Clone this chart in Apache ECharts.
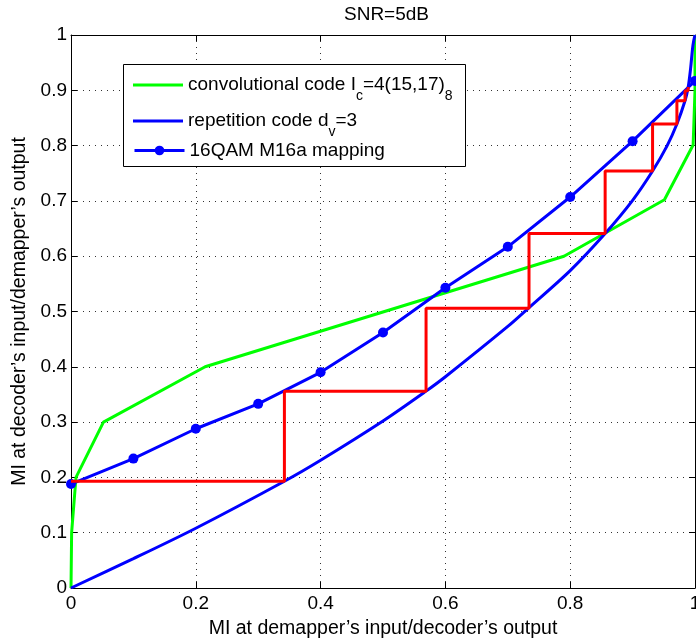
<!DOCTYPE html>
<html>
<head>
<meta charset="utf-8">
<script src="https://cdn.jsdelivr.net/npm/echarts@6/dist/echarts.min.js"></script>
<style>
html,body{margin:0;padding:0;background:#fff;}
#chart{width:696px;height:640px;}
</style>
</head>
<body>
<div id="chart"></div>
<script>
// ---- data ----
var convX = [0, 0.001, 0.008, 0.052, 0.215, 0.79, 0.951, 0.997, 1, 1];
var convY = [0, 0.1, 0.2, 0.3, 0.4, 0.6, 0.702, 0.801, 0.9, 1];

var repX = [0, 0.1, 0.2, 0.342, 0.4, 0.5, 0.569, 0.6, 0.7, 0.734, 0.8, 0.856, 0.9, 0.932, 0.955, 0.971, 0.984, 0.989, 0.993, 0.996, 0.998, 1];
var repY = [0, 0.053, 0.108, 0.193, 0.231, 0.302, 0.356, 0.382, 0.473, 0.507, 0.574, 0.641, 0.701, 0.754, 0.799, 0.839, 0.881, 0.905, 0.94, 0.975, 0.99, 1];

var mapX = [0, 0.1, 0.2, 0.3, 0.4, 0.5, 0.6, 0.7, 0.8, 0.9, 1.0];
var mapY = [0.188, 0.234, 0.288, 0.333, 0.390, 0.462, 0.543, 0.617, 0.707, 0.808, 0.917];

var stairX = [0, 0.342, 0.342, 0.569, 0.569, 0.734, 0.734, 0.856, 0.856, 0.932, 0.932, 0.971, 0.971, 0.984, 0.984, 0.989, 0.989];
var stairY = [0.193, 0.193, 0.356, 0.356, 0.506, 0.506, 0.641, 0.641, 0.754, 0.754, 0.839, 0.839, 0.881, 0.881, 0.899, 0.899, 0.906];

var seriesNames = ['convolutional code', 'repetition code', '16QAM M16a mapping'];
var legendTexts = [
  '{t|convolutional code I}{s|c}{t|=4(15,17)}{s|8}',
  '{t|repetition code d}{s|v}{t|=3}',
  '16QAM M16a mapping'
];
var titleText = 'SNR=5dB';
var xName = 'MI at demapper\u2019s input/decoder\u2019s output';
var yName = 'MI at decoder\u2019s input/demapper\u2019s output';

function pairs(xs, ys) {
  return xs.map(function (x, i) { return [x, ys[i]]; });
}

var FONT = '"Liberation Sans", Arial, Helvetica, sans-serif';
var chart = echarts.init(document.getElementById('chart'), null, {renderer: 'canvas'});

var gridLine = {show: true, lineStyle: {color: '#333', width: 1, type: [1, 5]}};
var lineIcon = 'path://M0,0L50,0L50,3L0,3Z';
var richStyles = {
  t: {fontFamily: FONT, fontSize: 19, color: '#000', lineHeight: 36, verticalAlign: 'middle'},
  s: {fontFamily: FONT, fontSize: 14, color: '#000', lineHeight: 12, verticalAlign: 'bottom'}
};

function legendRow(idx, top, itemHeight, icon, lineH) {
  var d = {name: seriesNames[idx]};
  if (icon) d.icon = icon;
  return {
    orient: 'vertical',
    left: 133,
    top: top,
    padding: 0,
    itemWidth: 50,
    itemHeight: itemHeight,
    z: 8,
    selectedMode: false,
    data: [d],
    lineStyle: {width: 3},
    formatter: function () { return legendTexts[idx]; },
    textStyle: {fontFamily: FONT, fontSize: 19, color: '#000', lineHeight: lineH, rich: richStyles}
  };
}

var option = {
  backgroundColor: '#fff',
  animation: false,
  textStyle: {fontFamily: FONT},
  title: {
    text: titleText,
    left: 344,
    top: 5,
    padding: 0,
    textStyle: {fontFamily: FONT, fontSize: 19, fontWeight: 'normal', color: '#000'}
  },
  graphic: [{
    type: 'rect', left: 123, top: 64, z: 7,
    shape: {width: 342, height: 102},
    style: {fill: '#fff', stroke: '#000', lineWidth: 1}
  }],
  legend: [
    legendRow(0, 67, 40, lineIcon, 36),
    legendRow(1, 103, 40, lineIcon, 36),
    legendRow(2, 141, 12, null, 12)
  ],
  grid: {left: 71, right: 1, top: 35, bottom: 52, show: false, containLabel: false, outerBoundsMode: 'none'},
  xAxis: [{
    type: 'value', min: 0, max: 1, interval: 0.2,
    name: xName, nameLocation: 'middle', nameGap: 31,
    nameTextStyle: {fontFamily: FONT, fontSize: 19.5, color: '#000'},
    axisLine: {show: true, onZero: false, lineStyle: {color: '#000', width: 1}},
    axisTick: {show: true, inside: true, length: 6, lineStyle: {color: '#000'}},
    axisLabel: {fontFamily: FONT, fontSize: 19, color: '#000', margin: 6},
    splitLine: gridLine
  }, {
    type: 'value', min: 0, max: 1, interval: 0.2, position: 'top',
    axisLine: {show: true, onZero: false, lineStyle: {color: '#000', width: 1}},
    axisTick: {show: true, inside: true, length: 6, lineStyle: {color: '#000'}},
    axisLabel: {show: false},
    splitLine: {show: false}
  }],
  yAxis: [{
    type: 'value', min: 0, max: 1, interval: 0.1,
    name: yName, nameLocation: 'middle', nameGap: 30, nameRotate: 90,
    nameTextStyle: {fontFamily: FONT, fontSize: 19.5, color: '#000'},
    axisLine: {show: true, onZero: false, lineStyle: {color: '#000', width: 1}},
    axisTick: {show: true, inside: true, length: 6, lineStyle: {color: '#000'}},
    axisLabel: {fontFamily: FONT, fontSize: 19, color: '#000', margin: 4},
    splitLine: gridLine
  }, {
    type: 'value', min: 0, max: 1, interval: 0.1, position: 'right',
    axisLine: {show: true, onZero: false, lineStyle: {color: '#000', width: 1}},
    axisTick: {show: true, inside: true, length: 6, lineStyle: {color: '#000'}},
    axisLabel: {show: false},
    splitLine: {show: false}
  }],
  series: [{
    name: seriesNames[0], type: 'line', data: pairs(convX, convY),
    symbol: 'none', lineStyle: {color: '#00ff00', width: 3}, itemStyle: {color: '#00ff00'},
    z: 2
  }, {
    name: seriesNames[1], type: 'line', data: pairs(repX, repY),
    symbol: 'none', smooth: 0.3,
    lineStyle: {color: '#0000ff', width: 3}, itemStyle: {color: '#0000ff'},
    z: 3
  }, {
    name: seriesNames[2], type: 'line', data: pairs(mapX, mapY),
    symbol: 'circle', symbolSize: 10, showSymbol: true,
    lineStyle: {color: '#0000ff', width: 3}, itemStyle: {color: '#0000ff'},
    z: 4
  }, {
    name: 'staircase', type: 'line', data: pairs(stairX, stairY),
    symbol: 'none', lineStyle: {color: '#ff0000', width: 3}, itemStyle: {color: '#ff0000'},
    z: 5
  }]
};
chart.setOption(option);
</script>
</body>
</html>
